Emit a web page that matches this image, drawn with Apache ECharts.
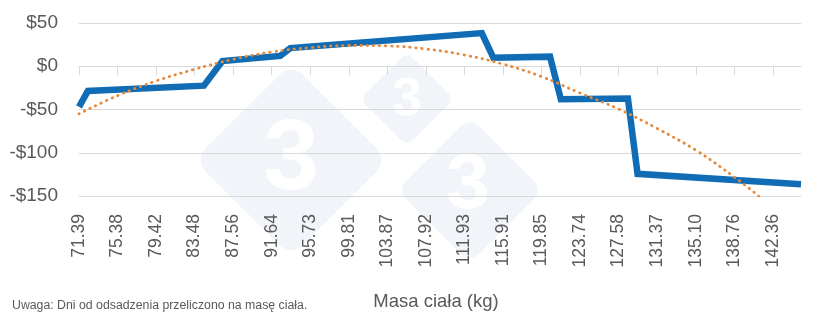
<!DOCTYPE html>
<html>
<head>
<meta charset="utf-8">
<script src="https://cdn.jsdelivr.net/npm/echarts@6/dist/echarts.min.js"></script>
<style>
  html, body { margin: 0; padding: 0; background: #ffffff; }
  #chart { width: 820px; height: 325px; }
</style>
</head>
<body>
<div id="chart"></div>
<script>
// Category tick labels (body mass, kg), one per label position 0..18
const xTickLabels = ['71.39','75.38','79.42','83.48','87.56','91.64','95.73','99.81','103.87','107.92',
  '111.93','115.91','119.85','123.74','127.58','131.37','135.10','138.76','142.36'];
const xTickPositions = [0,1,2,3,4,5,6,7,8,9,10,11,12,13,14,15,16,17,18];
const xEnd = 18.73;

// Y axis ticks ($)
const yTicks = [-150, -100, -50, 0, 50];

// Profit line vertices [label position, $]
const profitX = [0, 0.23, 3.24, 3.72, 5.22, 5.48, 10.45, 10.75, 12.22, 12.50, 14.24, 14.49, 18.73];
const profitY = [-47, -28.5, -22.4, 6, 12, 21, 38.3, 9.8, 11.1, -38.1, -37.4, -124.4, -136.4];

// Trend line (dotted) readings [label position, $]
const trendX = [0, 1, 2, 3, 4, 5, 6, 7, 8, 9, 10, 11, 12, 13, 14, 15, 16, 17, 17.63];
const trendY = [-55, -34, -17, -3.5, 8, 16.5, 21.5, 24, 23.5, 20, 13, 2.5, -12, -31, -49.5, -72, -97, -128, -150];

const xName = 'Masa ciała (kg)';
const note = 'Uwaga: Dni od odsadzenia przeliczono na masę ciała.';

const profitData = profitX.map((x, i) => [x, profitY[i]]);
const trendData = trendX.map((x, i) => [x, trendY[i]]);

const wmColor = '#f1f5fa';
function diamond(cx, cy, halfDiag) {
  const s = halfDiag * Math.SQRT2;
  return {
    type: 'rect', x: cx, y: cy, rotation: Math.PI / 4, z: -10, silent: true,
    shape: { x: -s / 2, y: -s / 2, width: s, height: s, r: s * 0.12 },
    style: { fill: wmColor }
  };
}
function three(cx, cy, size) {
  return {
    type: 'text', x: cx, y: cy, z: -9, silent: true,
    style: { text: '3', fill: '#ffffff', font: 'bold ' + size + 'px "Liberation Sans", Arial, sans-serif',
      textAlign: 'center', textVerticalAlign: 'middle' }
  };
}

const chart = echarts.init(document.getElementById('chart'), null, { renderer: 'canvas' });
chart.setOption({
  animation: false,
  backgroundColor: '#ffffff',
  textStyle: { fontFamily: '"Liberation Sans", Arial, sans-serif' },
  grid: { left: 79, right: 19, top: 23, bottom: 129, outerBoundsMode: 'none', containLabel: false },
  graphic: {
    elements: [
      diamond(291, 160, 97), three(291, 161, 100),
      diamond(407, 99, 47), three(407, 100, 54),
      diamond(470, 190, 73), three(468, 186, 78),
      {
        type: 'text', x: 436, y: 302,
        style: { text: xName, fill: '#595959', font: '18.5px "Liberation Sans", Arial, sans-serif',
          textAlign: 'center', textVerticalAlign: 'middle' }
      },
      {
        type: 'text', x: 12, y: 306,
        style: { text: note, fill: '#595959', font: '12.3px "Liberation Sans", Arial, sans-serif',
          textAlign: 'left', textVerticalAlign: 'middle' }
      }
    ]
  },
  xAxis: {
    type: 'value', min: 0, max: xEnd, interval: 1,
    axisLine: { show: true, lineStyle: { color: '#d9d9d9', width: 1 } },
    axisTick: { show: true, length: 9, customValues: xTickPositions, lineStyle: { color: '#d9d9d9' } },
    axisLabel: {
      customValues: xTickPositions,
      rotate: 90, margin: 18, fontSize: 17.5, color: '#595959',
      formatter: (v) => { const i = Math.round(v); return xTickLabels[i] !== undefined ? xTickLabels[i] : ''; }
    },
    splitLine: { show: false }
  },
  yAxis: {
    type: 'value', min: yTicks[0], max: yTicks[yTicks.length - 1], interval: 50,
    axisLine: { show: false }, axisTick: { show: false },
    axisLabel: { margin: 21, fontSize: 19, color: '#595959',
      formatter: (v) => (v < 0 ? '-' : '') + '$' + Math.abs(v) },
    splitLine: { lineStyle: { color: '#d9d9d9', width: 1 } }
  },
  series: [
    {
      type: 'line', data: trendData, smooth: 0.4, showSymbol: false, symbol: 'none', z: 3,
      lineStyle: { color: '#e5893a', width: 2.8, type: [0.5, 5.6], cap: 'round' }
    },
    {
      type: 'line', data: profitData, smooth: false, showSymbol: false, symbol: 'none', z: 2,
      lineStyle: { color: '#0f6cb5', width: 6.5, join: 'miter' }
    }
  ]
});
</script>
</body>
</html>
